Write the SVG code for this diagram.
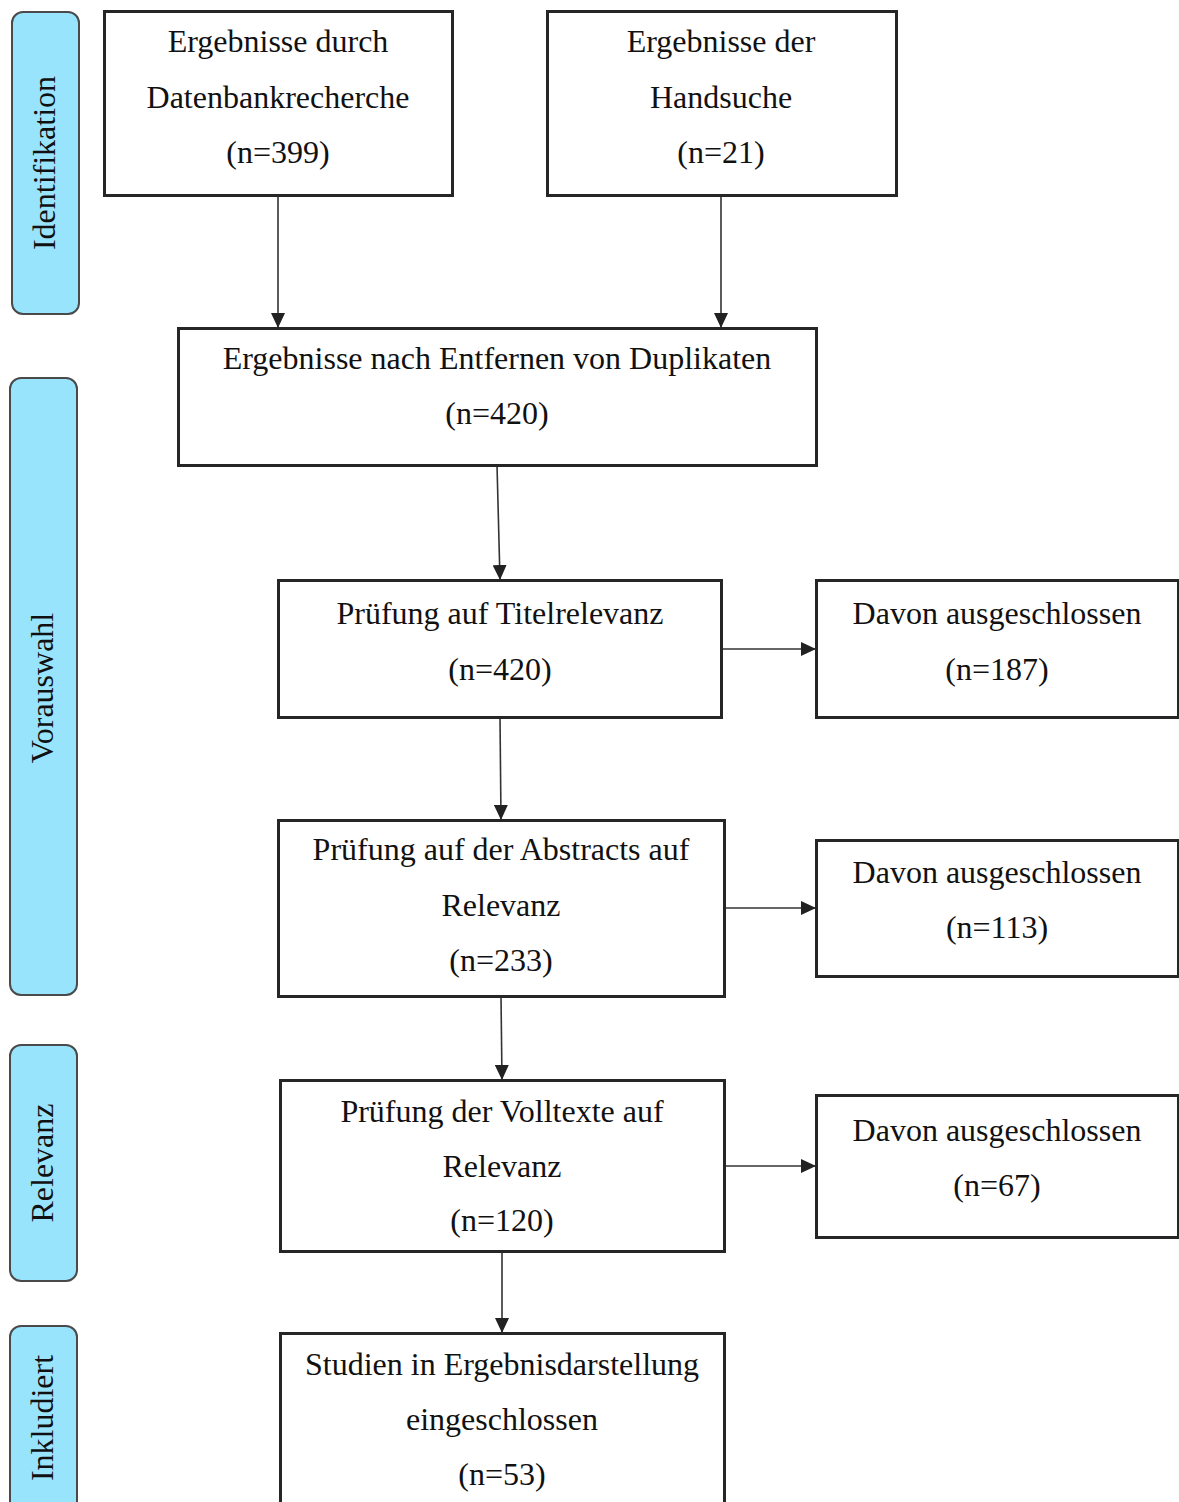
<svg xmlns="http://www.w3.org/2000/svg" width="1179" height="1502" viewBox="0 0 1179 1502">
<style>
.box{fill:#fff;stroke:#262626;stroke-width:3}
.side{fill:#99e4fd;stroke:#4a4a4a;stroke-width:2}
.t{font-family:'Liberation Serif','Times New Roman','DejaVu Serif',serif;font-size:32px;fill:#111;text-anchor:middle}
.st{font-size:32px}
.conn{stroke:#333;stroke-width:1.6;fill:none;marker-end:url(#ah)}
</style>
<defs>
<marker id="ah" markerWidth="15" markerHeight="14" refX="15" refY="7" orient="auto" markerUnits="userSpaceOnUse" viewBox="0 0 15 14">
<path d="M0,0 L15,7 L0,14 z" fill="#222"/>
</marker>
</defs>
<rect width="1179" height="1502" fill="#fff"/>
<g class="t">
<g id="side-identifikation"><rect class="side" x="12" y="12" width="67" height="302" rx="11"/><text class="st" transform="translate(55,163) rotate(-90)">Identifikation</text></g>
<g id="side-vorauswahl"><rect class="side" x="10" y="378" width="67" height="617" rx="11"/><text class="st" transform="translate(53,688) rotate(-90)">Vorauswahl</text></g>
<g id="side-relevanz"><rect class="side" x="10" y="1045" width="67" height="236" rx="11"/><text class="st" transform="translate(53,1163) rotate(-90)">Relevanz</text></g>
<g id="side-inkludiert"><rect class="side" x="10" y="1326" width="67" height="190" rx="11"/><text class="st" transform="translate(53,1418) rotate(-90)">Inkludiert</text></g>

<g id="connectors">
<line class="conn" x1="278" y1="195" x2="278" y2="328"/>
<line class="conn" x1="721" y1="195" x2="721" y2="328"/>
<line class="conn" x1="497" y1="465" x2="500" y2="580"/>
<line class="conn" x1="500" y1="717" x2="501" y2="820"/>
<line class="conn" x1="501" y1="996" x2="502" y2="1080"/>
<line class="conn" x1="502" y1="1251" x2="502" y2="1333"/>
<line class="conn" x1="721" y1="649" x2="816" y2="649"/>
<line class="conn" x1="724" y1="908" x2="816" y2="908"/>
<line class="conn" x1="724" y1="1166" x2="816" y2="1166"/>
</g>

<g id="n-datenbank"><rect class="box" x="104.5" y="11.5" width="348" height="184"/><text x="278" y="52">Ergebnisse durch</text><text x="278" y="108">Datenbankrecherche</text><text x="278" y="163">(n=399)</text></g>
<g id="n-handsuche"><rect class="box" x="547.5" y="11.5" width="349" height="184"/><text x="721" y="52">Ergebnisse der</text><text x="721" y="108">Handsuche</text><text x="721" y="163">(n=21)</text></g>
<g id="n-duplikate"><rect class="box" x="178.5" y="328.5" width="638" height="137"/><text x="497" y="369">Ergebnisse nach Entfernen von Duplikaten</text><text x="497" y="424">(n=420)</text></g>
<g id="n-titel"><rect class="box" x="278.5" y="580.5" width="443" height="137"/><text x="500" y="624">Prüfung auf Titelrelevanz</text><text x="500" y="680">(n=420)</text></g>
<g id="n-ex1"><rect class="box" x="816.5" y="580.5" width="362" height="137"/><text x="997" y="624">Davon ausgeschlossen</text><text x="997" y="680">(n=187)</text></g>
<g id="n-abstracts"><rect class="box" x="278.5" y="820.5" width="446" height="176"/><text x="501" y="860">Prüfung auf der Abstracts auf</text><text x="501" y="916">Relevanz</text><text x="501" y="971">(n=233)</text></g>
<g id="n-ex2"><rect class="box" x="816.5" y="840.5" width="362" height="136"/><text x="997" y="883">Davon ausgeschlossen</text><text x="997" y="938">(n=113)</text></g>
<g id="n-volltexte"><rect class="box" x="280.5" y="1080.5" width="444" height="171"/><text x="502" y="1122">Prüfung der Volltexte auf</text><text x="502" y="1177">Relevanz</text><text x="502" y="1231">(n=120)</text></g>
<g id="n-ex3"><rect class="box" x="816.5" y="1095.5" width="362" height="142"/><text x="997" y="1141">Davon ausgeschlossen</text><text x="997" y="1196">(n=67)</text></g>
<g id="n-studien"><rect class="box" x="280.5" y="1333.5" width="444" height="172"/><text x="502" y="1375">Studien in Ergebnisdarstellung</text><text x="502" y="1430">eingeschlossen</text><text x="502" y="1485">(n=53)</text></g>
</g>
</svg>
